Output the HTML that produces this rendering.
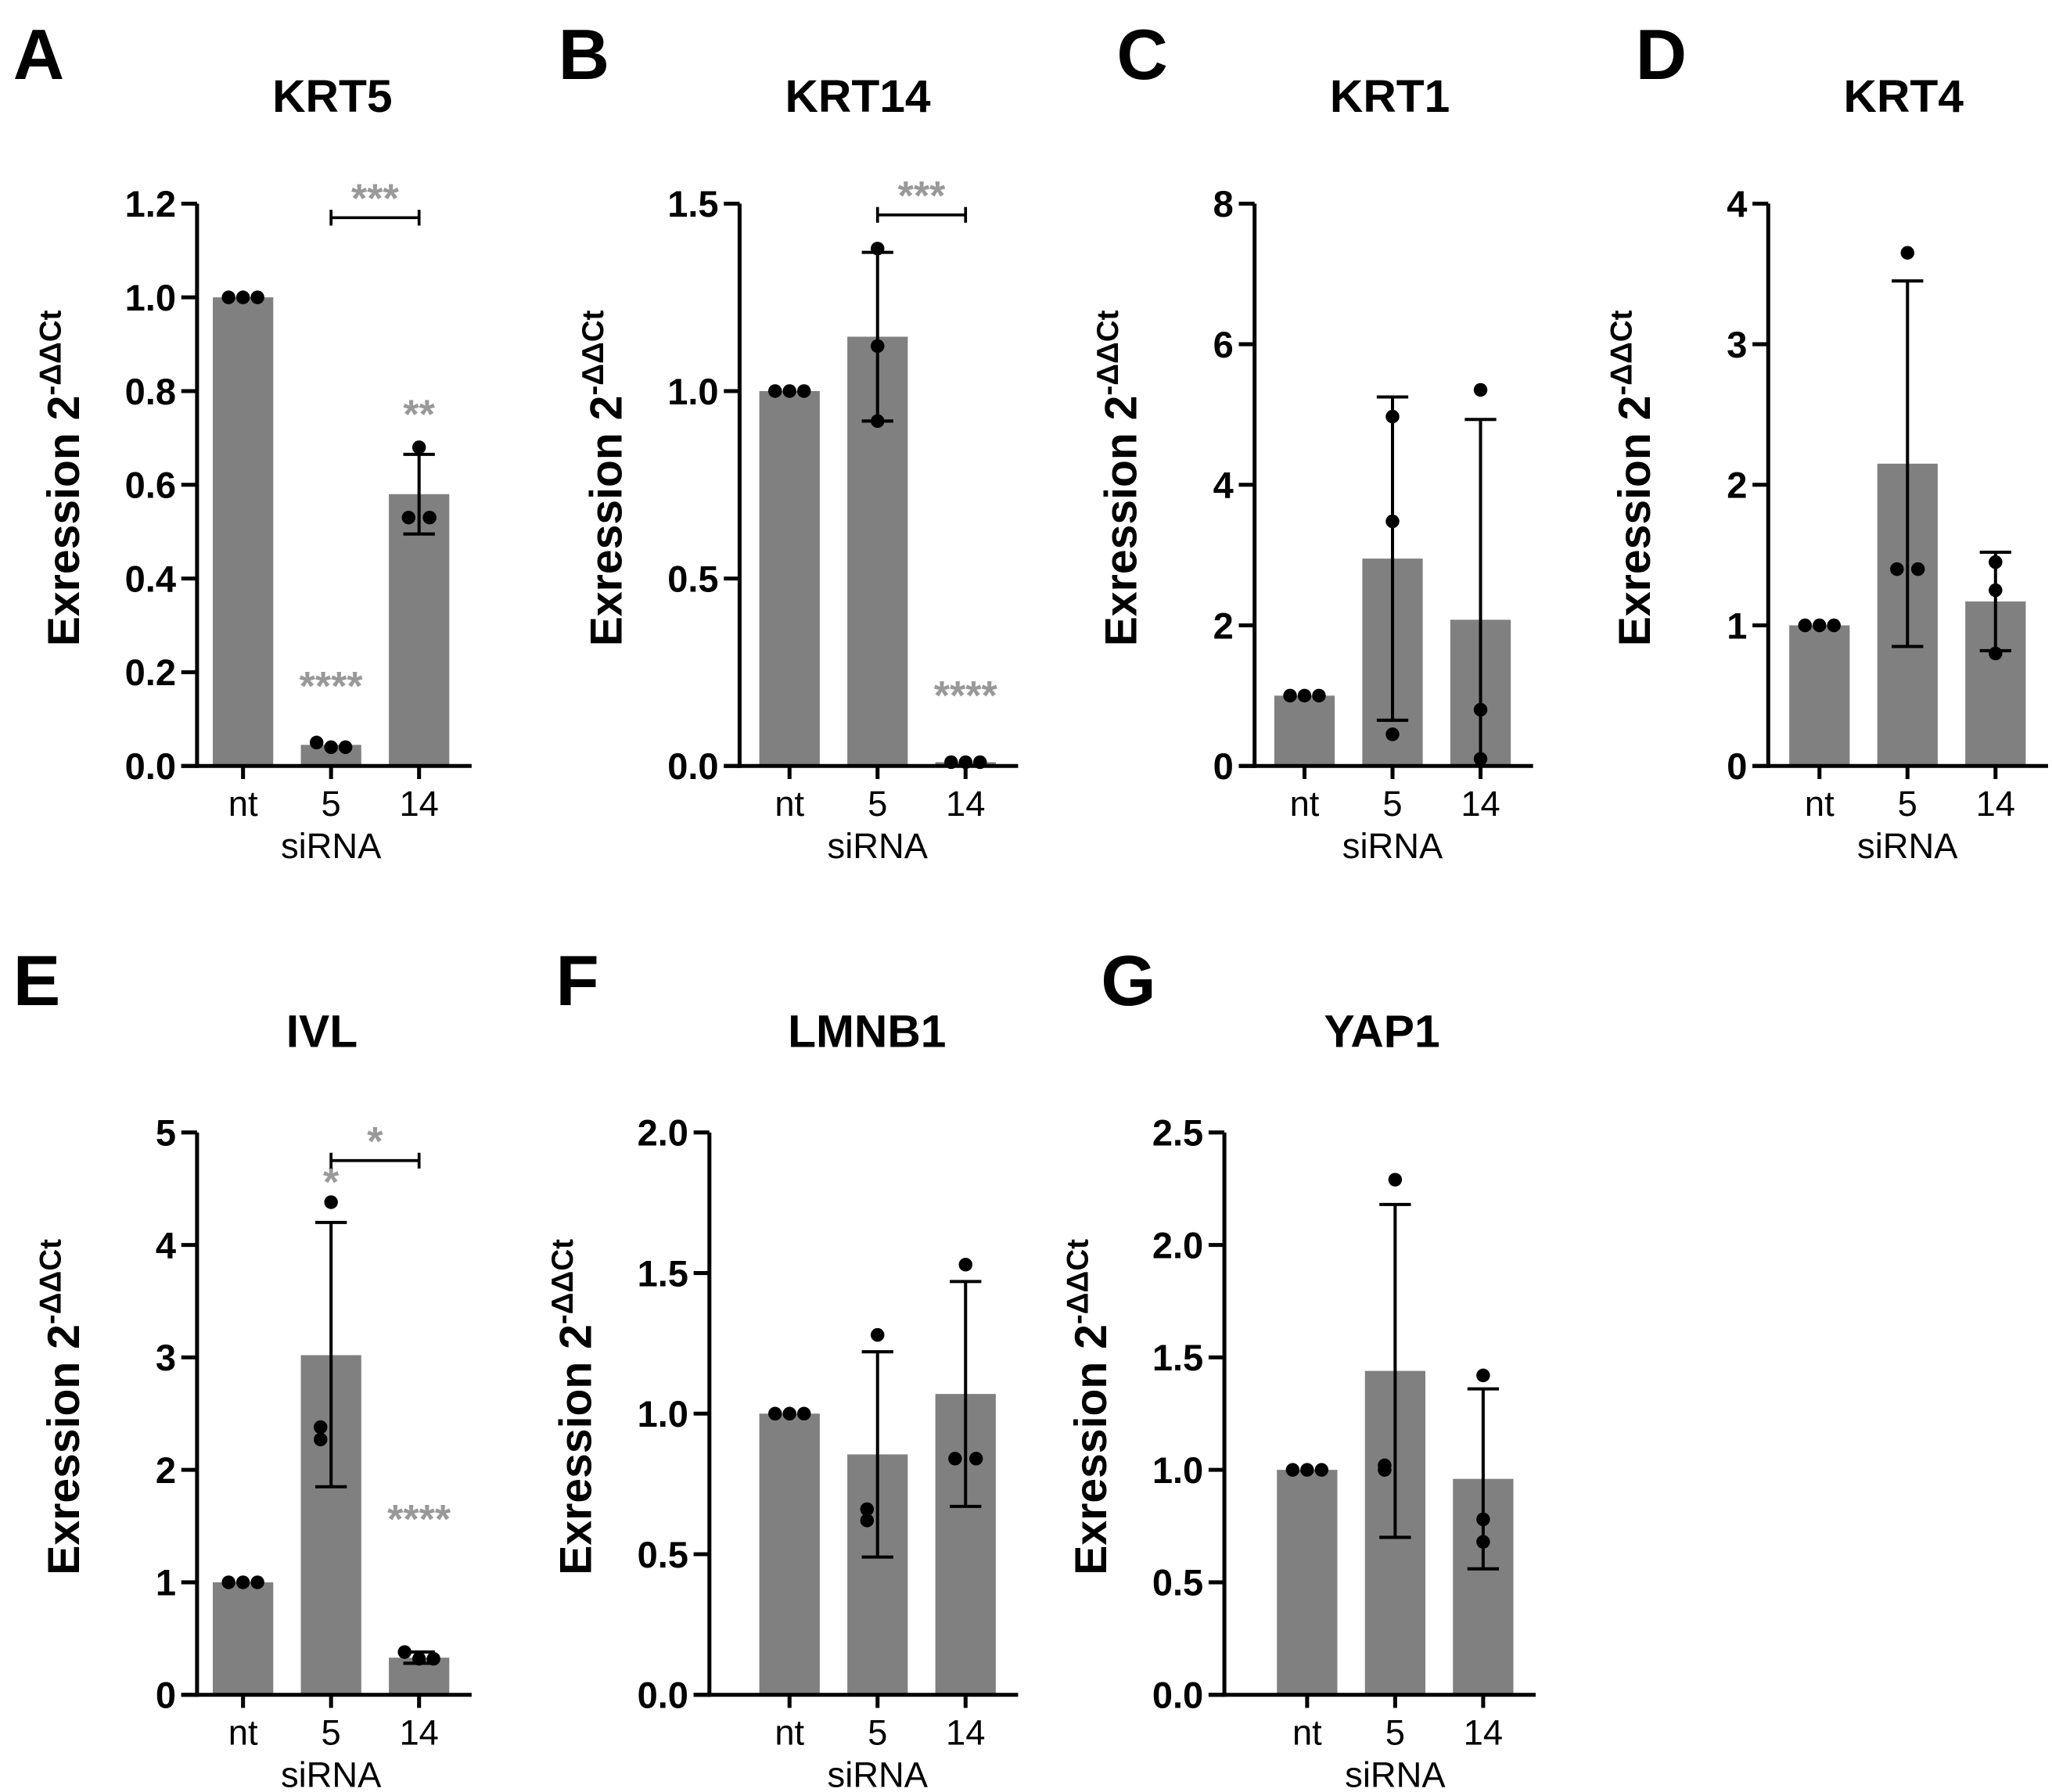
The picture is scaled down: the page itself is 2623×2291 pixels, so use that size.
<!DOCTYPE html>
<html><head><meta charset="utf-8"><style>
html,body{margin:0;padding:0;background:#fff;}
svg{display:block;}
text{font-family:"Liberation Sans",Arial,sans-serif;}
.tick{font-weight:bold;font-size:28px;}
.cat{font-family:"Liberation Sans Narrow","Liberation Sans",sans-serif;font-size:27px;}
.ylab{font-family:"Liberation Sans Narrow","Liberation Sans",sans-serif;font-weight:bold;font-size:34px;}
.title{font-weight:bold;font-size:35px;}
.letter{font-weight:bold;font-size:54px;}
.sig{fill:#999;font-weight:bold;font-size:31px;}
</style></head><body>
<svg id="fig" width="2623" height="2291" viewBox="0 0 1562 1364" preserveAspectRatio="none" xmlns="http://www.w3.org/2000/svg"></svg>
<script>
const categories = ["nt","5","14"];
const titles = ["KRT5","KRT14","KRT1","KRT4","IVL","LMNB1","YAP1"];
const letters = ["A","B","C","D","E","F","G"];
const yMax = [1.2,1.5,8,4,5,2.0,2.5];
const yStep = [0.2,0.5,2,1,1,0.5,0.5];
const yDecimals = [1,1,0,0,0,1,1];
const means = [[1,0.045,0.58],[1,1.145,0.01],[1,2.95,2.08],[1,2.15,1.17],[1,3.02,0.33],[1,0.855,1.07],[1,1.44,0.96]];
const errLow = [[null,null,0.495],[null,0.92,null],[null,0.65,0],[null,0.85,0.82],[null,1.85,0.28],[null,0.49,0.67],[null,0.70,0.56]];
const errHigh = [[null,null,0.665],[null,1.37,null],[null,5.25,4.93],[null,3.45,1.52],[null,4.20,0.38],[null,1.22,1.47],[null,2.18,1.36]];
const points = [
 [[1,1,1],[0.05,0.04,0.04],[0.68,0.53,0.53]],
 [[1,1,1],[1.38,1.12,0.92],[0.01,0.01,0.01]],
 [[1,1,1],[4.97,3.48,0.45],[5.35,0.8,0.1]],
 [[1,1,1],[3.65,1.4,1.4],[1.45,1.25,0.8]],
 [[1,1,1],[4.38,2.38,2.27],[0.38,0.32,0.32]],
 [[1,1,1],[1.28,0.66,0.62],[1.53,0.84,0.84]],
 [[1,1,1],[2.29,1.02,1.0],[1.42,0.78,0.68]]
];
const sigMarks = [[0,1,0.18,"****"],[0,2,0.76,"**"],[1,2,0.2,"****"],[4,1,4.6,"*"],[4,2,1.6,"****"]];
const sigBrackets = [[0,1,2,1.17,"***"],[1,1,2,1.47,"***"],[4,1,2,4.75,"*"]];

const layout = [
 {ax:150,top:155,bot:583,b0:35,lx:10,ly:60,tx:253,ty:85},
 {ax:563,top:155,bot:583,b0:38,lx:425,ly:60,tx:653,ty:85},
 {ax:955,top:155,bot:583,b0:38,lx:850,ly:60,tx:1058,ty:85},
 {ax:1346,top:155,bot:583,b0:39,lx:1245,ly:60,tx:1449,ty:85},
 {ax:150,top:862,bot:1290,b0:35,lx:10,ly:765,tx:245,ty:797},
 {ax:540,top:862,bot:1290,b0:61,lx:423,ly:765,tx:660,ty:797},
 {ax:932,top:862,bot:1290,b0:63,lx:838,ly:765,tx:1052,ty:797}
];
const svg=document.getElementById('fig');
const NS="http://www.w3.org/2000/svg";
function mk(tag,attrs,parent,txt){const e=document.createElementNS(NS,tag);for(const k in attrs)e.setAttribute(k,attrs[k]);if(txt!==undefined)e.textContent=txt;(parent||svg).appendChild(e);return e;}

layout.forEach((L,p)=>{
  const g=mk('g',{});
  
  
  const y=v=>L.bot-(v/yMax[p])*(L.bot-L.top);
  const x=i=>L.ax+L.b0+i*67;
  const xEnd=L.ax+L.b0+2*67+40;
  let t=mk('text',{x:L.lx,y:L.ly,class:'letter'},g,letters[p]);
  
  
  t=mk('text',{x:L.tx,y:L.ty,class:'title','text-anchor':'middle'},g,titles[p]);
  
  
  means[p].forEach((m,i)=>{
    const r=mk('rect',{x:x(i)-23,y:y(m),width:46,height:L.bot-y(m),fill:'#808080'},g);
    
    
  });
  means[p].forEach((m,i)=>{
    if(errHigh[p][i]===null)return;
    const lo=Math.max(0,errLow[p][i]),hi=errHigh[p][i];
    const e=mk('path',{d:`M${x(i)},${y(lo)}V${y(hi)}M${x(i)-12},${y(hi)}H${x(i)+12}`+(errLow[p][i]>0?`M${x(i)-12},${y(lo)}H${x(i)+12}`:''),stroke:'#000','stroke-width':2.4,fill:'none'},g);
    
    
  });
  points[p].forEach((arr,i)=>{
    arr.forEach((v,k)=>{
      const spread=(Math.max(...arr)-Math.min(...arr))/yMax[p];
      let dx;
      if(i===0||spread<0.03) dx=(k-1)*11;
      else {const close=arr.filter(w=>Math.abs(w-v)/yMax[p]<0.03).length; dx= close>1 ? (arr.indexOf(v)===k?-8:8) : 0;}
      const c=mk('circle',{cx:x(i)+dx,cy:y(v),r:5.2,fill:'#000'},g);
      
      
    });
  });
  const ya=mk('line',{x1:L.ax,y1:L.top,x2:L.ax,y2:L.bot+1.5,stroke:'#000','stroke-width':3},g);
  
  
  const xa=mk('line',{x1:L.ax-12,y1:L.bot,x2:xEnd,y2:L.bot,stroke:'#000','stroke-width':3},g);
  
  
  const n=Math.round(yMax[p]/yStep[p]);
  for(let k=0;k<=n;k++){
    const v=k*yStep[p];
    mk('line',{x1:L.ax-12,y1:y(v),x2:L.ax,y2:y(v),stroke:'#000','stroke-width':3},g);
    const tl=mk('text',{x:L.ax-16,y:y(v)+10,class:'tick','text-anchor':'end'},g,v.toFixed(yDecimals[p]));
    
    
  }
  categories.forEach((c,i)=>{
    mk('line',{x1:x(i),y1:L.bot,x2:x(i),y2:L.bot+10,stroke:'#000','stroke-width':3},g);
    const cl=mk('text',{x:x(i),y:L.bot+38,class:'cat','text-anchor':'middle'},g,c);
    
    
  });
  const xt=mk('text',{x:x(1),y:L.bot+70,class:'cat','text-anchor':'middle'},g,'siRNA');
  
  
  const cy=(L.top+L.bot)/2-5;
  const yl=mk('text',{x:0,y:0,class:'ylab','text-anchor':'middle',transform:`translate(${L.ax-90},${cy}) rotate(-90)`},g);
  
  
  mk('tspan',{},yl,'Exression 2');
  mk('tspan',{dy:-14,'font-size':23},yl,'-ΔΔCt');
  sigMarks.filter(s=>s[0]===p).forEach(s=>{
    const st=mk('text',{x:x(s[1]),y:y(s[2])+14,class:'sig','text-anchor':'middle'},g,s[3]);
    
    
  });
  sigBrackets.filter(s=>s[0]===p).forEach(s=>{
    const yy=y(s[3]);
    const b=mk('path',{d:`M${x(s[1])},${yy-6}V${yy+6}M${x(s[1])},${yy}H${x(s[2])}M${x(s[2])},${yy-6}V${yy+6}`,stroke:'#000','stroke-width':2.2,fill:'none'},g);
    
    
    const st=mk('text',{x:(x(s[1])+x(s[2]))/2,y:yy-4,class:'sig','text-anchor':'middle'},g,s[4]);
    
    
  });
});
</script>
</body></html>
